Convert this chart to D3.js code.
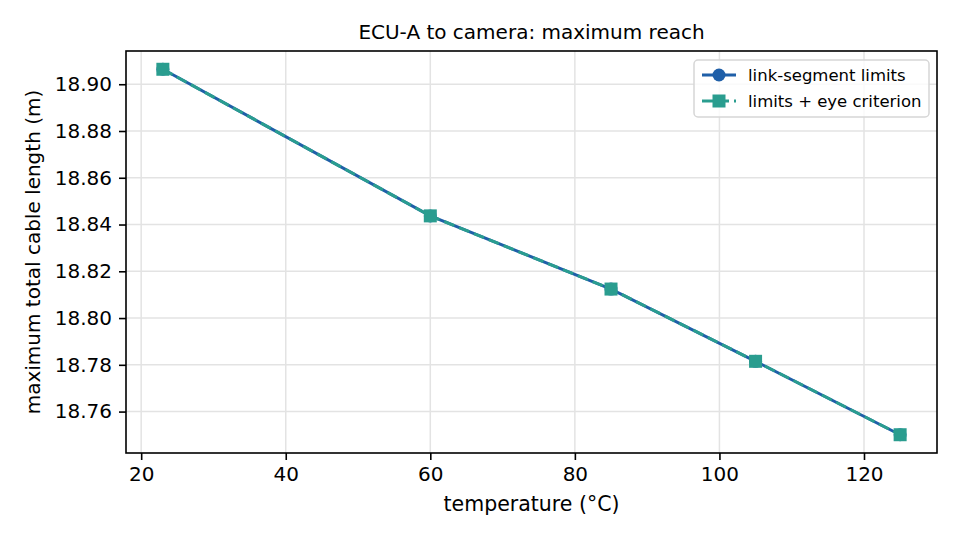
<!DOCTYPE html>
<html>
<head>
<meta charset="utf-8">
<script src="https://cdn.jsdelivr.net/npm/d3@7"></script>
<style>
  body { margin: 0; background: #fff; }
  text { font-family: "DejaVu Sans", sans-serif; fill: #000; }
  .grid line { stroke: #e3e3e3; stroke-width: 1.5; }
  .axis path, .axis line { stroke: #000; stroke-width: 1.6; }
</style>
</head>
<body>
<div id="chart"></div>
<script>
// data
var temps = [23, 60, 85, 105, 125];
var linkLimits = [18.9064, 18.8437, 18.8124, 18.7815, 18.7501];
var eyeLimits = [18.9064, 18.8437, 18.8124, 18.7815, 18.7501];
var xTicks = [20, 40, 60, 80, 100, 120];
var yTicks = [18.76, 18.78, 18.80, 18.82, 18.84, 18.86, 18.88, 18.90];
var seriesNames = ["link-segment limits", "limits + eye criterion"];

var svgWidth = 960;
var svgHeight = 540;
var margin = { top: 51, right: 23, bottom: 87, left: 126 };
var width = svgWidth - margin.left - margin.right;
var height = svgHeight - margin.top - margin.bottom;

var blue = "#1f5fa8";
var teal = "#2a9d8f";

var svg = d3.select("#chart").append("svg")
  .attr("width", svgWidth)
  .attr("height", svgHeight);

var chartGroup = svg.append("g")
  .attr("transform", `translate(${margin.left}, ${margin.top})`);

// 5% padding like matplotlib
var xPad = (d3.max(temps) - d3.min(temps)) * 0.05;
var yPad = (d3.max(linkLimits) - d3.min(linkLimits)) * 0.05;

var xScale = d3.scaleLinear()
  .domain([d3.min(temps) - xPad, d3.max(temps) + xPad])
  .range([0, width]);

var yScale = d3.scaleLinear()
  .domain([d3.min(linkLimits) - yPad, d3.max(linkLimits) + yPad])
  .range([height, 0]);

// grid
var grid = chartGroup.append("g").attr("class", "grid");
grid.selectAll(".gx").data(xTicks).enter().append("line")
  .attr("x1", d => xScale(d)).attr("x2", d => xScale(d))
  .attr("y1", 0).attr("y2", height);
grid.selectAll(".gy").data(yTicks).enter().append("line")
  .attr("x1", 0).attr("x2", width)
  .attr("y1", d => yScale(d)).attr("y2", d => yScale(d));

// axes
var bottomAxis = d3.axisBottom(xScale).tickValues(xTicks).tickSize(7).tickPadding(7)
  .tickFormat(d3.format("d"));
var leftAxis = d3.axisLeft(yScale).tickValues(yTicks).tickSize(7).tickPadding(7)
  .tickFormat(d3.format(".2f"));

var xAxis = chartGroup.append("g")
  .attr("class", "axis")
  .attr("transform", `translate(0, ${height})`)
  .call(bottomAxis);
xAxis.select(".domain").remove();

var yAxis = chartGroup.append("g")
  .attr("class", "axis")
  .call(leftAxis);
yAxis.select(".domain").remove();

svg.selectAll(".axis text").style("font-size", "20px");

// lines
var line1 = d3.line().x((d, i) => xScale(temps[i])).y(d => yScale(d));

chartGroup.append("path")
  .datum(linkLimits)
  .attr("d", line1)
  .attr("fill", "none")
  .attr("stroke", blue)
  .attr("stroke-width", 3);

chartGroup.selectAll(".dot").data(linkLimits).enter().append("circle")
  .attr("cx", (d, i) => xScale(temps[i]))
  .attr("cy", d => yScale(d))
  .attr("r", 6.5)
  .attr("fill", blue);

chartGroup.append("path")
  .datum(eyeLimits)
  .attr("d", line1)
  .attr("fill", "none")
  .attr("stroke", teal)
  .attr("stroke-width", 3)
  .attr("stroke-dasharray", "11,5");

chartGroup.selectAll(".sq").data(eyeLimits).enter().append("rect")
  .attr("x", (d, i) => xScale(temps[i]) - 6.5)
  .attr("y", d => yScale(d) - 6.5)
  .attr("width", 13)
  .attr("height", 13)
  .attr("fill", teal);

// frame
chartGroup.append("rect")
  .attr("width", width).attr("height", height)
  .attr("fill", "none").attr("stroke", "#000").attr("stroke-width", 1.6);

// title and labels
svg.append("text")
  .attr("x", margin.left + width / 2).attr("y", 39)
  .attr("text-anchor", "middle")
  .style("font-size", "20px")
  .text("ECU-A to camera: maximum reach");

svg.append("text")
  .attr("x", margin.left + width / 2).attr("y", 511)
  .attr("text-anchor", "middle")
  .style("font-size", "20.5px")
  .text("temperature (°C)");

svg.append("text")
  .attr("transform", "rotate(-90)")
  .attr("x", -(margin.top + height / 2)).attr("y", 40)
  .attr("text-anchor", "middle")
  .style("font-size", "20px")
  .text("maximum total cable length (m)");

// legend
var legend = svg.append("g").attr("transform", "translate(694, 60)");
legend.append("rect")
  .attr("width", 235).attr("height", 57).attr("rx", 4)
  .attr("fill", "#fff").attr("fill-opacity", 0.8)
  .attr("stroke", "#d6d6d6").attr("stroke-width", 1.5);

var legItems = legend.selectAll(".li").data(seriesNames).enter().append("g")
  .attr("transform", (d, i) => `translate(8, ${15 + i * 26})`);

legItems.append("line")
  .attr("x1", 0).attr("x2", 34).attr("y1", 0).attr("y2", 0)
  .attr("stroke", (d, i) => i === 0 ? blue : teal)
  .attr("stroke-width", 3)
  .attr("stroke-dasharray", (d, i) => i === 0 ? null : "11,5");
legItems.filter((d, i) => i === 0).append("circle")
  .attr("cx", 17).attr("r", 6.5).attr("fill", blue);
legItems.filter((d, i) => i === 1).append("rect")
  .attr("x", 10.5).attr("y", -6.5).attr("width", 13).attr("height", 13)
  .attr("fill", teal);
legItems.append("text")
  .attr("x", 46).attr("y", 6)
  .style("font-size", "16.5px")
  .text(d => d);
</script>
</body>
</html>
